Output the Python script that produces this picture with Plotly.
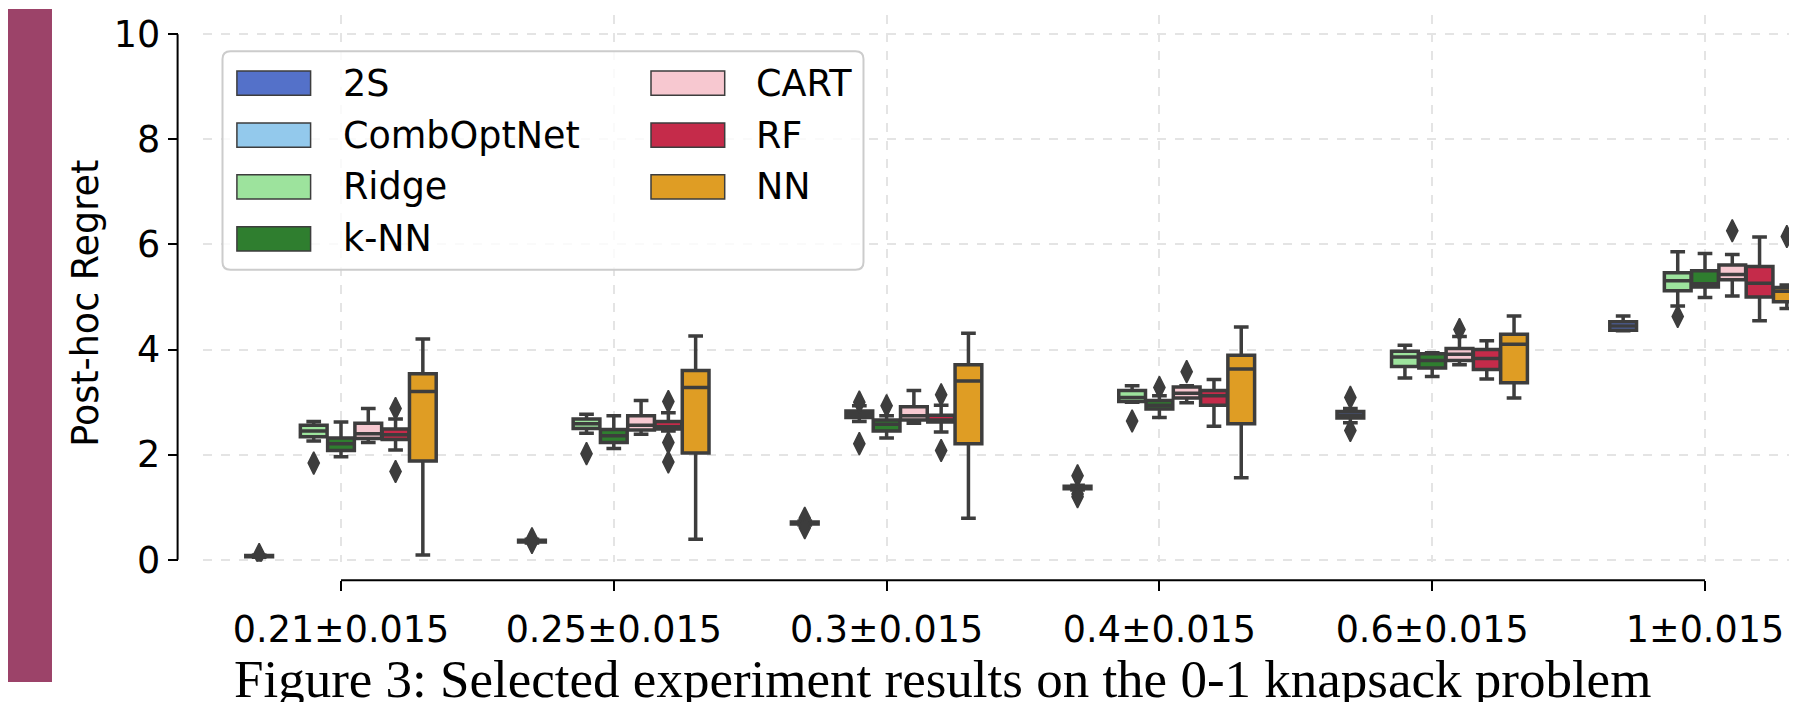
import plotly.graph_objects as go

# ---------------- data ----------------
categories = ["0.21±0.015", "0.25±0.015", "0.3±0.015", "0.4±0.015", "0.6±0.015", "1±0.015"]
methods = ["2S", "CombOptNet", "Ridge", "k-NN", "CART", "RF", "NN"]

# (lower whisker, q1, median, q3, upper whisker) per category
stats_2s = [(0.05, 0.06, 0.07, 0.08, 0.09), (0.32, 0.34, 0.36, 0.37, 0.39), (0.66, 0.68, 0.70, 0.72, 0.74),
            (1.33, 1.35, 1.38, 1.40, 1.42), (2.61, 2.70, 2.75, 2.82, 2.88), (4.36, 4.37, 4.45, 4.53, 4.64)]
out_2s = [[0.10], [0.40, 0.33], [0.79, 0.61], [1.60, 1.25, 1.20], [3.09, 2.46], []]

stats_comboptnet = None
out_comboptnet = None

stats_ridge = [(2.26, 2.34, 2.45, 2.56, 2.63), (2.41, 2.50, 2.59, 2.68, 2.77), (2.63, 2.71, 2.77, 2.83, 2.93),
               (3.00, 3.01, 3.09, 3.22, 3.31), (3.46, 3.68, 3.86, 3.97, 4.08), (4.83, 5.12, 5.31, 5.46, 5.86)]
out_ridge = [[1.84], [2.02], [3.00, 2.21], [2.64], [], [4.63]]

stats_knn = [(1.96, 2.08, 2.21, 2.32, 2.62), (2.12, 2.23, 2.36, 2.48, 2.74), (2.32, 2.45, 2.58, 2.66, 2.74),
             (2.71, 2.87, 2.94, 3.03, 3.12), (3.49, 3.65, 3.79, 3.92, 3.94), (4.99, 5.19, 5.25, 5.50, 5.83)]
out_knn = [[], [], [2.93], [3.28], [], []]

stats_cart = [(2.23, 2.31, 2.40, 2.60, 2.88), (2.39, 2.47, 2.56, 2.74, 3.03), (2.60, 2.66, 2.74, 2.91, 3.22),
              (2.99, 3.08, 3.17, 3.29, 3.31), (3.71, 3.79, 3.91, 4.02, 4.25), (5.02, 5.33, 5.43, 5.61, 5.81)]
out_cart = [[], [], [], [3.58], [4.38], [6.26]]

stats_rf = [(2.09, 2.29, 2.38, 2.49, 2.68), (2.45, 2.49, 2.53, 2.63, 2.80), (2.43, 2.62, 2.66, 2.75, 2.94),
            (2.54, 2.94, 3.12, 3.22, 3.43), (3.44, 3.62, 3.83, 4.00, 4.17), (4.55, 5.00, 5.26, 5.58, 6.14)]
out_rf = [[2.88, 1.68], [3.01, 2.23, 1.86], [3.14, 2.08], [], [], []]

stats_nn = [(0.09, 1.88, 3.20, 3.54, 4.20), (0.39, 2.03, 3.28, 3.60, 4.26), (0.79, 2.21, 3.40, 3.71, 4.31),
            (1.56, 2.59, 3.63, 3.89, 4.43), (3.08, 3.37, 4.10, 4.29, 4.64), (4.78, 4.91, 5.11, 5.18, 5.23)]
out_nn = [[], [], [], [], [], [6.15]]

y_ticks = [0, 2, 4, 6, 8, 10]
y_title = "Post-hoc Regret"
caption = "Figure 3: Selected experiment results on the 0-1 knapsack problem"

# ---------------- style ----------------
colors = ["#5471c9", "#93c9ec", "#9de39d", "#2f7e2f", "#f7c8d0", "#c52b4a", "#df9d24"]
EDGE = "#3d3d3d"
W, H = 1797, 702
OFF = 8  # page body margin: the figure starts 8 px right/down of the window corner
FW, FH = W - OFF, H - OFF
FONT = "DejaVu Sans"
FS = 36.5
HUE_STEP = 0.1


def px(x):  # window pixel -> paper x
    return (x - OFF) / FW


def py(y):  # window pixel -> paper y
    return 1 - (y - OFF) / FH


all_stats = [stats_2s, stats_comboptnet, stats_ridge, stats_knn, stats_cart, stats_rf, stats_nn]
all_out = [out_2s, out_comboptnet, out_ridge, out_knn, out_cart, out_rf, out_nn]

fig = go.Figure()
n_cat = len(categories)
for k, (name, col, st, outs) in enumerate(zip(methods, colors, all_stats, all_out)):
    if st is None:
        continue
    off = (k - (len(methods) - 1) / 2) * HUE_STEP
    xs = [i + off for i in range(n_cat)]
    fig.add_trace(go.Box(
        x=xs,
        lowerfence=[s[0] for s in st], q1=[s[1] for s in st], median=[s[2] for s in st],
        q3=[s[3] for s in st], upperfence=[s[4] for s in st],
        width=HUE_STEP * 0.98, whiskerwidth=0.55,
        fillcolor=col, line=dict(color=EDGE, width=3.5),
        boxpoints=False, name=name, showlegend=False, hoverinfo="skip",
    ))
    ox, oy = [], []
    for i, vals in enumerate(outs):
        for v in vals:
            ox.append(i + off)
            oy.append(v)
    if ox:
        fig.add_trace(go.Scatter(
            x=ox, y=oy, mode="markers", showlegend=False, hoverinfo="skip",
            marker=dict(symbol="diamond-tall", size=16, color=EDGE, line=dict(color=EDGE, width=1.5)),
        ))

# axis geometry (window pixels)
X0_PIX, X_STEP = 341.0, 272.8
Y0_PIX, Y_UNIT = 576.0, 54.2
plot_left, plot_right = 203, W
plot_top, plot_bottom = 14, 578

xr = [(plot_left - X0_PIX) / X_STEP, (plot_right - X0_PIX) / X_STEP]
yr = [(Y0_PIX - plot_bottom) / Y_UNIT, (Y0_PIX - plot_top) / Y_UNIT]

grid = dict(showgrid=True, gridcolor="#e4e4e4", griddash="dash", gridwidth=1.5, zeroline=False, showline=False)

fig.update_layout(
    width=FW, height=FH, margin=dict(l=0, r=0, t=0, b=0, pad=0),
    paper_bgcolor="white", plot_bgcolor="white", boxmode="overlay",
    font=dict(family=FONT, color="black"),
    xaxis=dict(domain=[px(plot_left), 1], range=xr, anchor="free", position=py(597),
               tickvals=list(range(n_cat)), ticktext=categories, ticks="outside", ticklen=10,
               tickwidth=2, tickcolor="black", ticklabelstandoff=7,
               tickfont=dict(family=FONT, size=FS, color="black"), **grid),
    yaxis=dict(domain=[py(plot_bottom), py(plot_top)], range=yr, anchor="free", position=px(177.6),
               tickvals=y_ticks, ticks="outside", ticklen=10, tickwidth=2, tickcolor="black",
               tickfont=dict(family=FONT, size=FS, color="black"), **grid),
)

shapes = []
# trimmed spines
shapes.append(dict(type="line", xref="paper", yref="y", x0=px(177.6), x1=px(177.6), y0=0, y1=10,
                   line=dict(color="black", width=2)))
shapes.append(dict(type="line", xref="x", yref="paper", x0=0, x1=n_cat - 1, y0=py(597), y1=py(597),
                   line=dict(color="black", width=2)))

# legend frame (rounded)
lx0, lx1, ly0, ly1, r = 222.5, 863.5, 51.5, 277, 8


def P(x, y):
    return f"{px(x):.5f},{py(y):.5f}"


path = (f"M {P(lx0 + r, ly0)} L {P(lx1 - r, ly0)} Q {P(lx1, ly0)} {P(lx1, ly0 + r)} "
        f"L {P(lx1, ly1 - r)} Q {P(lx1, ly1)} {P(lx1 - r, ly1)} L {P(lx0 + r, ly1)} "
        f"Q {P(lx0, ly1)} {P(lx0, ly1 - r)} L {P(lx0, ly0 + r)} Q {P(lx0, ly0)} {P(lx0 + r, ly0)} Z")
shapes.append(dict(type="path", xref="paper", yref="paper", path=path,
                   fillcolor="rgba(255,255,255,0.8)", line=dict(color="#cccccc", width=2)))

annotations = []
row_y = [84.5, 138.0, 191.5, 245.0]
for k, (name, col) in enumerate(zip(methods, colors)):
    c = k // 4
    rrow = k % 4
    sx0 = 236.9 if c == 0 else 651.0
    tx = 340.5 if c == 0 else 753.5
    yc = row_y[rrow]
    shapes.append(dict(type="rect", xref="paper", yref="paper", x0=px(sx0), x1=px(sx0 + 73.7),
                       y0=py(yc + 12.5), y1=py(yc - 12.5), fillcolor=col,
                       line=dict(color=EDGE, width=1.5)))
    annotations.append(dict(xref="paper", yref="paper", x=px(tx), y=py(yc), text=name, showarrow=False,
                            xanchor="left", yanchor="middle", font=dict(family=FONT, size=FS, color="black")))

# y title
annotations.append(dict(xref="paper", yref="paper", x=px(86), y=py(312), text=y_title, showarrow=False,
                        textangle=-90, xanchor="center", yanchor="middle",
                        font=dict(family=FONT, size=FS, color="black")))
# caption
annotations.append(dict(xref="paper", yref="paper", x=px(232), y=py(731), text=caption, showarrow=False,
                        xanchor="left", yanchor="bottom",
                        font=dict(family="Liberation Serif", size=53, color="black")))

# left decorative strip
strip = (f"M {P(52, OFF)} L {P(OFF, OFF)} L {P(OFF, H)} L {P(52, H)} Z")
shapes.append(dict(type="path", xref="paper", yref="paper", path=strip,
                   fillcolor="#9c4369", line=dict(width=0), layer="above"))

fig.update_layout(shapes=shapes, annotations=annotations)
fig.write_html("out.html")
